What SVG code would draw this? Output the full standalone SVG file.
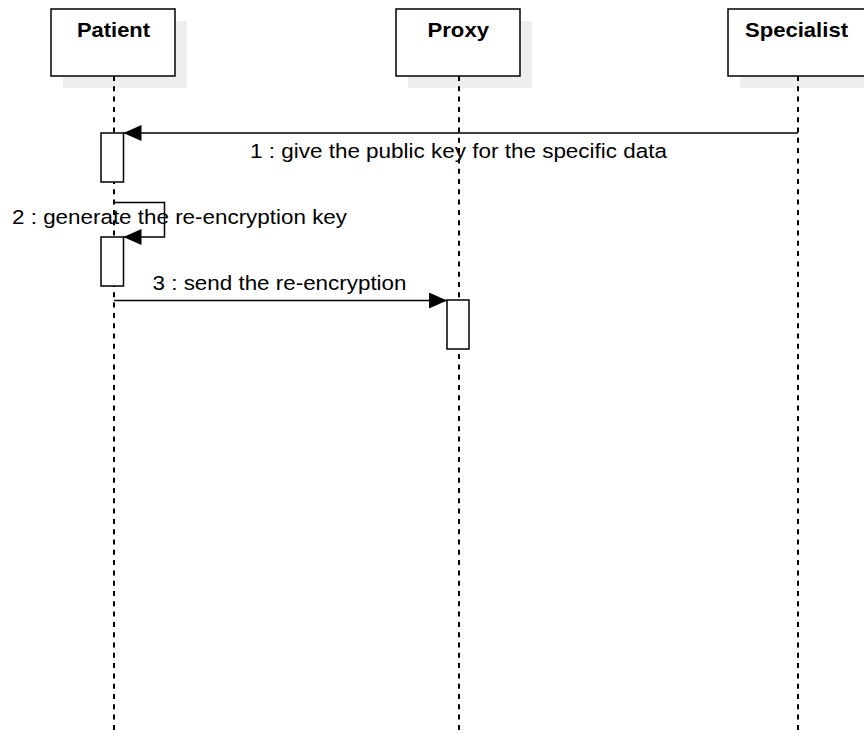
<svg xmlns="http://www.w3.org/2000/svg" width="864" height="734" viewBox="0 0 864 734">
<style>
.shadow{fill:#eeeeee;stroke:none}
.box{fill:#ffffff;stroke:#000000;stroke-width:1.5}
.life{stroke:#000000;stroke-width:2;stroke-dasharray:5 5.3;fill:none}
.act{fill:#ffffff;stroke:#000000;stroke-width:1.5}
.msg{stroke:#000000;stroke-width:1.5;fill:none}
.title{font-family:"Liberation Sans",Arial,sans-serif;font-weight:bold;font-size:20.5px;fill:#000000}
.label{font-family:"Liberation Sans",Arial,sans-serif;font-size:20.5px;fill:#000000}
</style>
<defs>
<marker id="arr" viewBox="0 0 18 16" refX="18" refY="8" markerWidth="18" markerHeight="16" markerUnits="userSpaceOnUse" orient="auto">
<path d="M0,0 L18,8 L0,16 Z" fill="#000000"/>
</marker>
</defs>
<g id="patient">
<rect class="shadow" x="63" y="21" width="124" height="67"/>
<line class="life" x1="114" y1="76" x2="114" y2="734"/>
<rect class="box" x="51" y="9" width="124" height="67"/>
<text class="title" x="77" y="36.7" textLength="73" lengthAdjust="spacingAndGlyphs">Patient</text>
</g>
<g id="proxy">
<rect class="shadow" x="408" y="21" width="124" height="67"/>
<line class="life" x1="459" y1="76" x2="459" y2="734"/>
<rect class="box" x="396" y="9" width="124" height="67"/>
<text class="title" x="427.5" y="36.7" textLength="61.5" lengthAdjust="spacingAndGlyphs">Proxy</text>
</g>
<g id="specialist">
<rect class="shadow" x="740" y="21" width="138" height="67"/>
<line class="life" x1="798" y1="76" x2="798" y2="734"/>
<rect class="box" x="728" y="9" width="138" height="67"/>
<text class="title" x="745" y="36.7" textLength="103" lengthAdjust="spacingAndGlyphs">Specialist</text>
</g>
<g id="act-patient-1"><rect class="act" x="101" y="133" width="22.5" height="49"/></g>
<g id="act-patient-2"><rect class="act" x="101" y="237" width="22.5" height="49"/></g>
<g id="act-proxy-1"><rect class="act" x="447" y="300" width="22" height="49"/></g>
<g id="connectors">
<line class="msg" x1="798" y1="133" x2="123.5" y2="133" marker-end="url(#arr)"/>
<polyline class="msg" points="114,202.5 164.5,202.5 164.5,237 123.5,237" marker-end="url(#arr)"/>
<line class="msg" x1="114" y1="300.5" x2="447" y2="300.5" marker-end="url(#arr)"/>
<text class="label" x="250" y="157.7" textLength="417" lengthAdjust="spacingAndGlyphs">1 : give the public key for the specific data</text>
<text class="label" x="12" y="224.3" textLength="335" lengthAdjust="spacingAndGlyphs">2 : generate the re-encryption key</text>
<text class="label" x="152.5" y="290" textLength="254" lengthAdjust="spacingAndGlyphs">3 : send the re-encryption</text>
</g>
</svg>
